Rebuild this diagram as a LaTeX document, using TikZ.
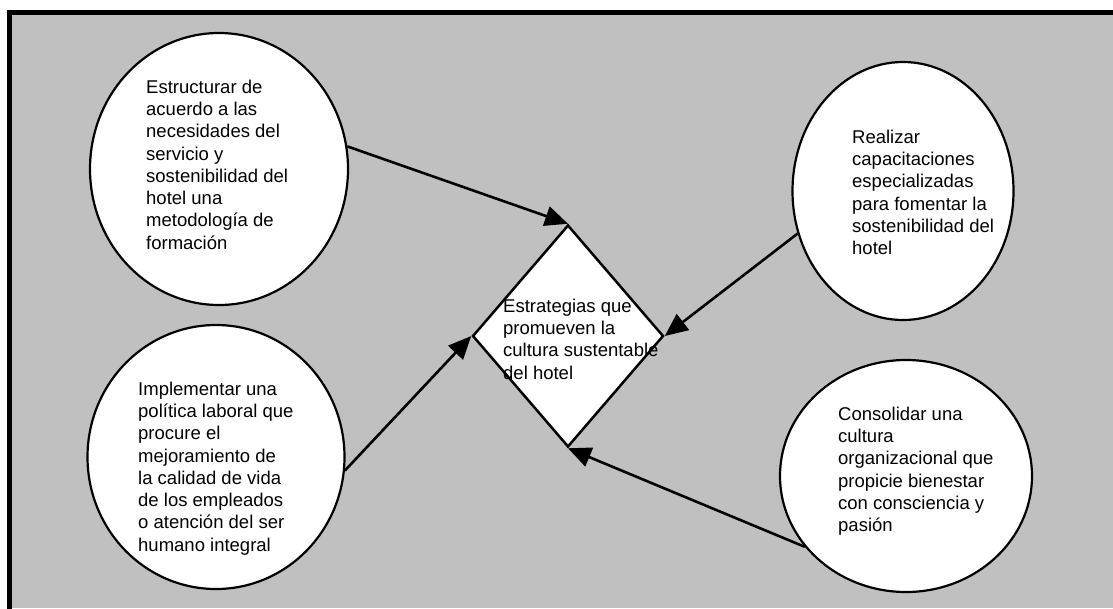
\documentclass[tikz,border=0pt]{standalone}
\usepackage{fontspec}
\setmainfont{Liberation Sans}
\usetikzlibrary{shapes.geometric,arrows.meta}
\definecolor{panelgray}{RGB}{192,192,192}
\begin{document}
\begin{tikzpicture}[x=1pt,y=-1pt,
  bubble/.style={ellipse,draw=black,line width=2.2pt,fill=white,inner sep=0pt},
  hub/.style={diamond,draw=black,line width=2.5pt,fill=white,inner sep=0pt},
  txt/.style={anchor=north west,inner sep=0pt,align=left,
    font=\fontsize{18.5}{22.3}\selectfont,text=black},
  link/.style={line width=2.6pt,-{Triangle[length=23pt,width=20pt]}},
]
\useasboundingbox (0,0) rectangle (1113,608);
% panel with its frame on the top and left edges
\fill[white] (0,0) rectangle (1113,608);
\fill[panelgray] (9.5,12.5) rectangle (1113,608);
\draw[line width=5pt] (9.5,620) -- (9.5,12.5) -- (1125,12.5);

% bubbles and central diamond
\node[bubble,minimum width=258pt,minimum height=272pt] (tl) at (219,169) {};
\node[bubble,minimum width=221pt,minimum height=258pt] (tr) at (903,191) {};
\node[bubble,minimum width=257pt,minimum height=264pt] (bl) at (216,457) {};
\node[bubble,minimum width=252pt,minimum height=232pt] (br) at (906,476) {};
\node[hub,minimum width=191pt,minimum height=222pt] (hub) at (568,336) {};

% texts
\node[txt] (tltext) at (146,79.5) {Estructurar de\\acuerdo a las\\necesidades del\\servicio y\\sostenibilidad del\\hotel una\\metodología de\\formación};
\node[txt] (trtext) at (852,129.5) {Realizar\\capacitaciones\\especializadas\\para fomentar la\\sostenibilidad del\\hotel};
\node[txt] (bltext) at (138,381.5) {Implementar una\\política laboral que\\procure el\\mejoramiento de\\la calidad de vida\\de los empleados\\o atención del ser\\humano integral};
\node[txt] (brtext) at (838,406.5) {Consolidar una\\cultura\\organizacional que\\propicie bienestar\\con consciencia y\\pasión};
\node[txt] (hubtext) at (503,298.5) {Estrategias que\\promueven la\\cultura sustentable\\del hotel};

% connectors
\draw[link] (tl.10) -- (hub.north);
\draw[link] (tr.202) -- (hub.east);
\draw[link] (bl.-6) -- (hub.west);
\draw[link] (br.215) -- (hub.south);
\end{tikzpicture}
\end{document}
